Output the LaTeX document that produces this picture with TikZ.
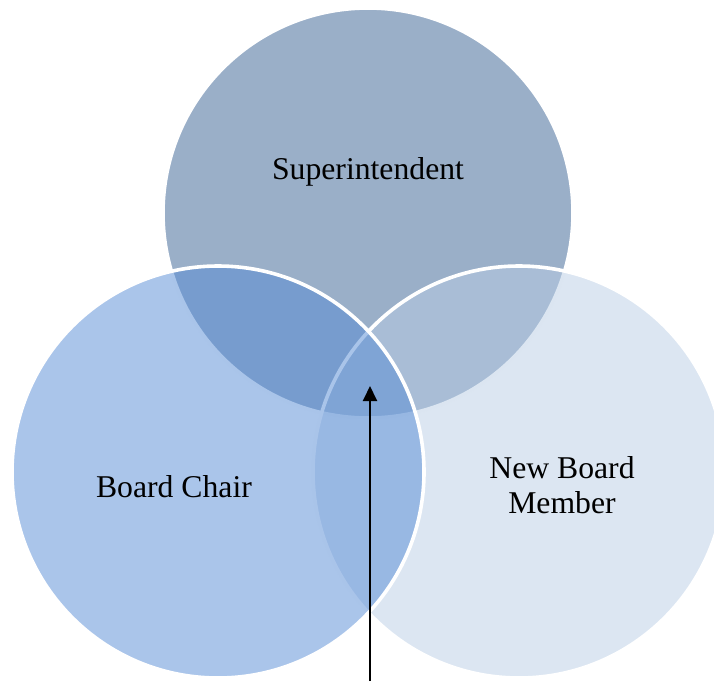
\documentclass[tikz,border=0pt]{standalone}
\usepackage{fontspec}
\setmainfont{Liberation Serif}
\usetikzlibrary{arrows.meta}
\definecolor{ctop}{RGB}{53,95,145}
\definecolor{cright}{RGB}{185,205,229}
\definecolor{cleft}{RGB}{85,139,213}
\tikzset{
  venn/.style={circle, minimum size=412pt, inner sep=0pt, fill opacity=0.5, draw=white, draw opacity=1, line width=3.6pt},
  lbl/.style={font=\fontsize{31.7}{35}\selectfont, text=black, align=center, inner sep=0pt},
  pointer/.style={line width=2pt, -{Triangle[length=15pt,width=14pt]}}
}
\begin{document}
\begin{tikzpicture}[x=1pt,y=-1pt]
\useasboundingbox (0,0) rectangle (714,681);
\node[venn, fill=ctop, minimum size=410pt] (sup) at (368,213) {};
\node[venn, fill=cright] (nbm) at (519,472) {};
\node[venn, fill=cleft] (bc) at (218,472) {};
\node[lbl, anchor=base] (tsup) at (368,179) {Superintendent};
\node[lbl, anchor=base] (tbc) at (174,497) {Board Chair};
\node[lbl, anchor=base] (tnbm) at (562,513) {New Board\\Member};
\coordinate (tail) at (370,681);
\coordinate (head) at (370,386);
\draw[pointer] (tail) -- (head);
\end{tikzpicture}
\end{document}
